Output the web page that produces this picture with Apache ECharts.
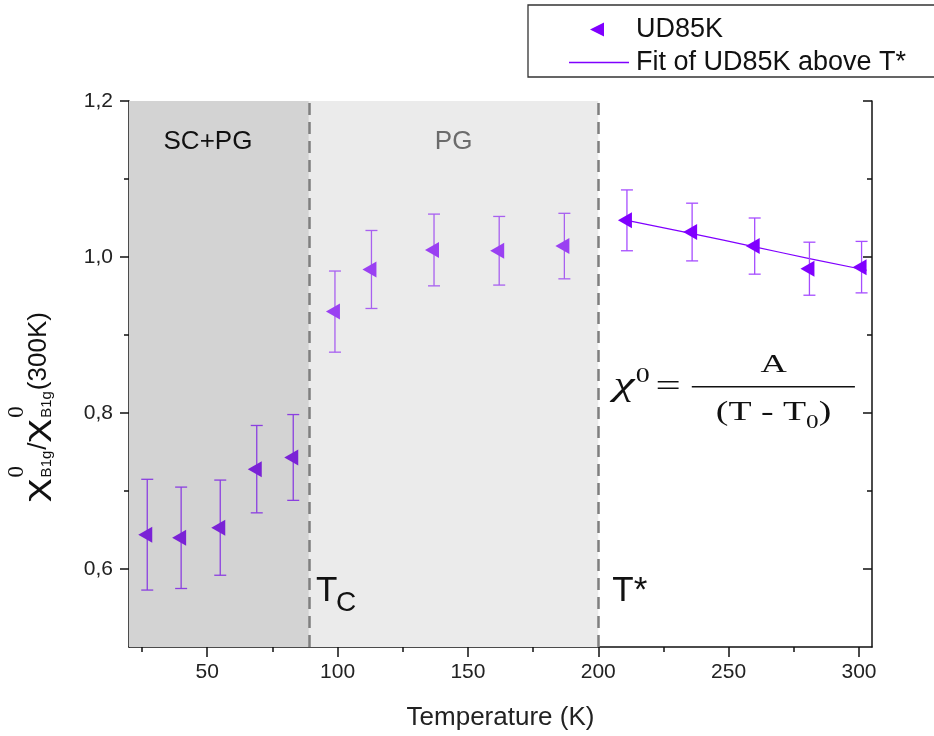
<!DOCTYPE html>
<html><head><meta charset="utf-8">
<script src="https://cdn.jsdelivr.net/npm/echarts@6/dist/echarts.min.js"></script>
<style>html,body{margin:0;padding:0;background:#fff}#c{width:934px;height:736px}</style>
</head><body><div id="c"></div>
<script>
// ---- data ----
const temperatures = [27, 40, 55, 69, 83, 99, 113, 137, 162, 187, 211, 236, 260, 281, 301];
const ratioValues  = [0.644, 0.640, 0.653, 0.728, 0.743, 0.930, 0.984, 1.009, 1.008, 1.014, 1.047, 1.032, 1.014, 0.985, 0.987];
const ratioErrors  = [0.071, 0.065, 0.061, 0.056, 0.055, 0.052, 0.050, 0.046, 0.044, 0.042, 0.039, 0.037, 0.036, 0.034, 0.033];
const fitTemperatures = [211, 236, 260, 281, 303];
const fitValues       = [1.047, 1.030, 1.013, 0.998, 0.983];
const xMajorTicks = [50, 100, 150, 200, 250, 300];
const xMinorTicks = [25, 75, 125, 175, 225, 275];
const yMajorTicks = [0.6, 0.8, 1.0, 1.2];
const yMinorTicks = [0.7, 0.9, 1.1];
const xRange = [20, 305];
const yRange = [0.5, 1.2];
const Tc = 89, Tstar = 200;
const regionNames = ['SC+PG', 'PG'];
const seriesName = 'UD85K';
const fitName = 'Fit of UD85K above T*';

// ---- styles ----
const markerColors = ['#7A22D6', '#9A40F2', '#8000FF'];
const errColors = ['#8B3FE0', '#A860F0', '#A64DFF'];
const regionOf = t => (t < Tc ? 0 : (t < Tstar ? 1 : 2));
const SANS = '"Liberation Sans", Arial, sans-serif';
const SERIF = '"Liberation Serif", "Times New Roman", serif';
const fmt = v => v.toFixed(1).replace('.', ',');

const chart = echarts.init(document.getElementById('c'), null, {renderer: 'canvas'});

const baseX = {type: 'value', min: xRange[0], max: xRange[1], splitLine: {show: false}, position: 'bottom'};
const baseY = {type: 'value', min: yRange[0], max: yRange[1], splitLine: {show: false}};
const lineStyle = {color: '#111', width: 1.5};

chart.setOption({
  animation: false,
  grid: {left: 129, right: 62, top: 101, bottom: 88, containLabel: false},
  xAxis: [
    Object.assign({}, baseX, {
      axisLine: {show: true, onZero: false, lineStyle},
      axisTick: {show: true, inside: false, length: 10, lineStyle: {color: '#111', width: 1.5}, customValues: xMajorTicks},
      axisLabel: {show: true, customValues: xMajorTicks, margin: 15, fontSize: 21, fontFamily: SANS, color: '#222'},
      name: 'Temperature (K)', nameLocation: 'middle', nameGap: 58,
      nameTextStyle: {fontSize: 26, fontFamily: SANS, color: '#222'}
    }),
    Object.assign({}, baseX, {
      axisLine: {show: false, onZero: false},
      axisTick: {show: true, inside: false, length: 5, lineStyle: {color: '#111', width: 1.5}, customValues: xMinorTicks},
      axisLabel: {show: false}
    })
  ],
  yAxis: [
    Object.assign({}, baseY, {
      position: 'left',
      axisLine: {show: true, onZero: false, lineStyle},
      axisTick: {show: true, inside: false, length: 9, lineStyle: {color: '#111', width: 1.5}, customValues: yMajorTicks},
      axisLabel: {show: true, customValues: yMajorTicks, margin: 16, fontSize: 21, fontFamily: SANS, color: '#222', formatter: fmt}
    }),
    Object.assign({}, baseY, {
      position: 'left',
      axisLine: {show: false, onZero: false},
      axisTick: {show: true, inside: false, length: 5, lineStyle: {color: '#111', width: 1.5}, customValues: yMinorTicks},
      axisLabel: {show: false}
    }),
    Object.assign({}, baseY, {
      position: 'right',
      axisLine: {show: true, onZero: false, lineStyle},
      axisTick: {show: true, inside: true, length: 9, lineStyle: {color: '#111', width: 1.5}, customValues: yMajorTicks},
      axisLabel: {show: false}
    }),
    Object.assign({}, baseY, {
      position: 'right',
      axisLine: {show: false, onZero: false},
      axisTick: {show: true, inside: true, length: 5, lineStyle: {color: '#111', width: 1.5}, customValues: yMinorTicks},
      axisLabel: {show: false}
    })
  ],
  legend: [
    {
      left: 585, top: 11, orient: 'vertical', itemWidth: 14, itemHeight: 14,
      selectedMode: false,
      textStyle: {fontSize: 27, fontFamily: SANS, color: '#111', padding: [0, 0, 0, 27]},
      data: [{name: seriesName, icon: 'path://M14,0 L14,14 L0,7 Z', itemStyle: {color: '#8000FF'}}]
    },
    {
      left: 564, top: 44, orient: 'vertical', itemWidth: 60, itemHeight: 1.3,
      selectedMode: false,
      textStyle: {fontSize: 27, fontFamily: SANS, color: '#111', padding: [0, 0, 0, 2]},
      data: [{name: fitName, icon: 'rect'}]
    }
  ],
  series: [
    {
      type: 'line', name: 'regions', data: [], xAxisIndex: 0, yAxisIndex: 0, silent: true, z: 0,
      markArea: {
        silent: true,
        data: [
          [{xAxis: xRange[0], itemStyle: {color: '#D3D3D3'}, name: regionNames[0],
            label: {color: '#111', offset: [-11, 0]}}, {xAxis: Tc}],
          [{xAxis: Tc, itemStyle: {color: '#EBEBEB'}, name: regionNames[1],
            label: {color: '#6b6b6b'}}, {xAxis: Tstar}]
        ],
        label: {show: true, position: 'insideTop', distance: 28, fontSize: 26, fontFamily: SANS}
      },
      markLine: {
        silent: true, symbol: 'none', label: {show: false},
        lineStyle: {color: '#7f7f7f', width: 2.5, type: [12, 7]},
        data: [{xAxis: Tc}, {xAxis: Tstar}]
      }
    },
    {
      type: 'line', name: fitName, xAxisIndex: 0, yAxisIndex: 0, z: 2,
      data: fitTemperatures.map((t, i) => [t, fitValues[i]]),
      symbol: 'none', smooth: true,
      lineStyle: {color: '#8000FF', width: 1.2}, itemStyle: {color: '#8000FF'}
    },
    {
      type: 'custom', name: 'errors', xAxisIndex: 0, yAxisIndex: 0, z: 3, silent: true,
      data: temperatures.map((t, i) => [t, ratioValues[i] - ratioErrors[i], ratioValues[i] + ratioErrors[i]]),
      encode: {x: 0, y: [1, 2]},
      renderItem(params, api) {
        const t = api.value(0);
        const lo = api.coord([t, api.value(1)]);
        const hi = api.coord([t, api.value(2)]);
        const c = errColors[regionOf(t)];
        const hw = 6, st = {stroke: c, lineWidth: 1.3};
        return {type: 'group', children: [
          {type: 'line', shape: {x1: lo[0], y1: lo[1], x2: hi[0], y2: hi[1]}, style: st},
          {type: 'line', shape: {x1: lo[0] - hw, y1: lo[1], x2: lo[0] + hw, y2: lo[1]}, style: st},
          {type: 'line', shape: {x1: hi[0] - hw, y1: hi[1], x2: hi[0] + hw, y2: hi[1]}, style: st}
        ]};
      }
    },
    {
      type: 'scatter', name: seriesName, xAxisIndex: 0, yAxisIndex: 0, z: 5,
      data: temperatures.map((t, i) => [t, ratioValues[i]]),
      symbol: 'triangle', symbolSize: [16, 14], symbolRotate: 90, symbolOffset: [-2, 0],
      itemStyle: {color: p => markerColors[regionOf(p.value[0])], opacity: 1}
    }
  ]
});

// ---- annotations (text) ----
const ctx = document.createElement('canvas').getContext('2d');
const tw = (t, f) => { ctx.font = f; return ctx.measureText(t).width; };

// y-axis title built from pieces, rotated
function yTitle() {
  const parts = [];
  let x = 0;
  const chiF = '30px ' + SANS, supF = '23px ' + SERIF, subF = '15px ' + SANS, nF = '26px ' + SANS;
  const chiScale = 1.5;
  const add = (text, font, size, base, adv, sx) => {
    const el = {type: 'text', x: x, y: base - 0.33 * size,
      style: {text, font, fill: '#111', verticalAlign: 'middle', align: 'left'}};
    if (sx) el.scaleX = sx;
    parts.push(el);
    if (adv) x += tw(text, font) * (sx || 1);
  };
  const chiBlock = () => {
    add('χ', chiF, 30, 0, true, chiScale);
    x += 1;
    const x0 = x;
    add('0', supF, 23, -22, false);
    const w1 = tw('0', supF);
    add('B1g', subF, 15, 4.5, false);
    x = x0 + Math.max(w1, tw('B1g', subF)) + 1;
  };
  chiBlock();
  add('/', nF, 26, 0, true);
  chiBlock();
  add('(300K)', nF, 26, 0, true);
  return {type: 'group', x: 47, y: 502, rotation: Math.PI / 2, children: parts, z: 10};
}

function formula() {
  const c = [];
  const t = (text, x, size, base, style) => c.push({type: 'text', x, y: base - 0.34 * size,
    style: {text, font: (style || '') + size + 'px ' + SERIF, fill: '#111', verticalAlign: 'middle', align: 'left'}});
  t('χ', 1, 34, 398, 'italic ');
  t('0', 17, 20, 384);
  t('=', 31, 32, 398);
  c.push({type: 'rect', shape: {x: 57, y: 386, width: 116.5, height: 1.5}, style: {fill: '#111'}});
  const aW = tw('A', '26px ' + SERIF);
  t('A', 115.4 - aW / 2, 26, 374);
  const p1 = tw('(T - T', '27px ' + SERIF), p2 = tw('0', '18px ' + SERIF), p3 = tw(')', '27px ' + SERIF);
  const sx = 115.4 - (p1 + p2 + p3) / 2;
  t('(T - T', sx, 27, 422);
  t('0', sx + p1, 18, 429);
  t(')', sx + p1 + p2, 27, 422);
  return {type: 'group', x: 612, y: 0, scaleX: 1.4, children: c, z: 10};
}

const pTc = chart.convertToPixel({xAxisIndex: 0}, Tc);
const pTs = chart.convertToPixel({xAxisIndex: 0}, Tstar);
const sansT = (text, x, size, base) => ({type: 'text', x, y: base - 0.33 * size, z: 10,
  style: {text, font: size + 'px ' + SANS, fill: '#111', verticalAlign: 'middle', align: 'left'}});

chart.setOption({
  graphic: [
    {type: 'rect', shape: {x: 528, y: 5, width: 420, height: 72}, style: {fill: '#fff', stroke: '#333', lineWidth: 1.3}, z: 3},
    yTitle(),
    formula(),
    sansT('T', pTc + 7, 35, 603),
    sansT('C', pTc + 27, 28, 613),
    sansT('T*', pTs + 14, 35, 603)
  ]
});
</script>
</body></html>
